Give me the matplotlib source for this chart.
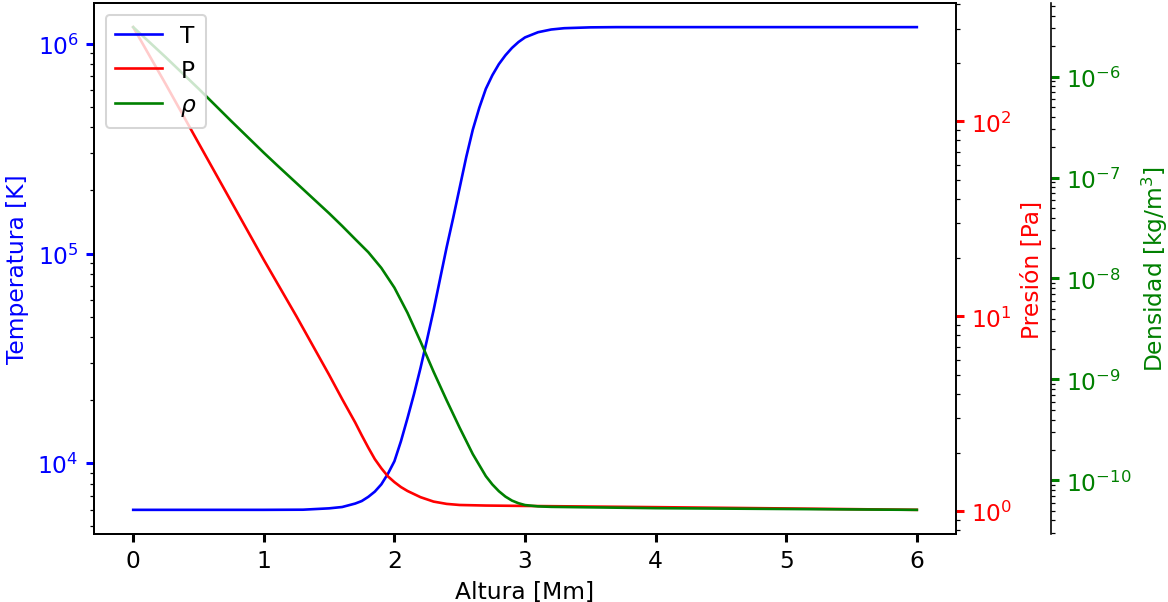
import numpy as np
import matplotlib
matplotlib.use("Agg")
import matplotlib.pyplot as plt

plt.rcParams["font.size"] = 11.5
plt.rcParams["lines.linewidth"] = 1.3

# Perfil de la atmosfera solar: altura en Mm
altura_T = [0.0, 1.0, 1.3, 1.5, 1.6, 1.7, 1.75, 1.8, 1.85, 1.9, 1.95, 2.0,
            2.05, 2.1, 2.15, 2.2, 2.25, 2.3, 2.35, 2.4, 2.45, 2.5, 2.55, 2.6,
            2.65, 2.7, 2.75, 2.8, 2.85, 2.9, 2.95, 3.0, 3.1, 3.2, 3.3, 3.5,
            3.7, 6.0]
temperatura = [6000, 6000, 6010, 6100, 6190, 6430, 6610, 6920, 7330, 7940,
               8910, 10230, 12740, 16400, 21380, 28500, 38900, 53700, 75900,
               107200, 147900, 206500, 288400, 389000, 495500, 609500, 707900,
               799800, 881000, 955000, 1.019e6, 1.072e6, 1.135e6, 1.169e6,
               1.186e6, 1.197e6, 1.2e6, 1.2e6]

altura_P = [0.0, 0.25, 0.5, 0.75, 1.0, 1.25, 1.5, 1.6, 1.7, 1.75, 1.8, 1.85,
            1.9, 1.95, 2.0, 2.05, 2.1, 2.2, 2.3, 2.4, 2.5, 2.7, 3.0, 4.0, 5.0,
            6.0]
presion = [305, 155, 77.6, 38.9, 19.5, 10.0, 5.01, 3.76, 2.85, 2.45, 2.12,
           1.85, 1.66, 1.51, 1.41, 1.33, 1.27, 1.18, 1.12, 1.09, 1.076, 1.069,
           1.064, 1.049, 1.033, 1.016]

altura_rho = [0.0, 0.25, 0.5, 0.75, 1.0, 1.1, 1.2, 1.3, 1.4, 1.5, 1.6, 1.7,
              1.8, 1.9, 2.0, 2.1, 2.2, 2.3, 2.4, 2.5, 2.6, 2.7, 2.75, 2.8,
              2.85, 2.9, 2.95, 3.0, 3.1, 3.2, 3.5, 4.0, 5.0, 6.0]
densidad = [3.09e-6, 1.55e-6, 7.6e-7, 3.63e-7, 1.76e-7, 1.33e-7, 1.01e-7,
            7.67e-8, 5.82e-8, 4.42e-8, 3.31e-8, 2.45e-8, 1.82e-8, 1.27e-8,
            8.1e-9, 4.57e-9, 2.37e-9, 1.19e-9, 6.2e-10, 3.31e-10, 1.82e-10,
            1.10e-10, 9.1e-11, 7.8e-11, 6.9e-11, 6.3e-11, 5.93e-11, 5.69e-11,
            5.52e-11, 5.46e-11, 5.4e-11, 5.3e-11, 5.2e-11, 5.1e-11]

fig, host = plt.subplots(figsize=(8, 4.13), dpi=146)
fig.subplots_adjust(left=0.0805, right=0.8185, bottom=0.1128, top=0.9934)

par1 = host.twinx()
par2 = host.twinx()
par2.spines["right"].set_position(("axes", 1.11))

p1, = host.plot(altura_T, temperatura, "b-", label="T")
p2, = par1.plot(altura_P, presion, "r-", label="P")
p3, = par2.plot(altura_rho, densidad, "g-", label=r"$\rho$")

host.set_yscale("log")
par1.set_yscale("log")
par2.set_yscale("log")

host.set_xlabel("Altura [Mm]")
host.set_ylabel("Temperatura [K]")
par1.set_ylabel("Presión [Pa]")
par2.set_ylabel("Densidad [kg/m$^3$]")

host.yaxis.label.set_color(p1.get_color())
par1.yaxis.label.set_color(p2.get_color())
par2.yaxis.label.set_color(p3.get_color())

tkw = dict(size=4, width=1.5)
host.tick_params(axis="y", colors=p1.get_color(), **tkw)
par1.tick_params(axis="y", colors=p2.get_color(), **tkw)
par2.tick_params(axis="y", colors=p3.get_color(), **tkw)
host.tick_params(axis="x", **tkw)

par2.legend(handles=[p1, p2, p3], loc="upper left")

fig.savefig("out.png")
